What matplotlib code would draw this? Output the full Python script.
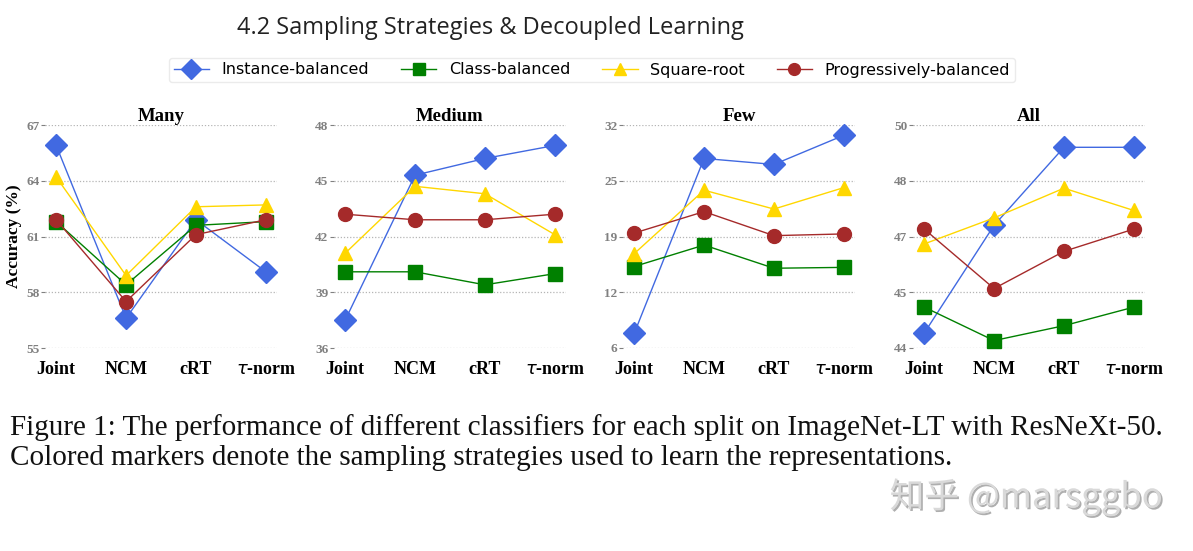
import matplotlib
matplotlib.use("Agg")
import matplotlib.pyplot as plt
import matplotlib.patheffects as pe

classifiers = ["Joint", "NCM", "cRT", r"$\tau$-norm"]
splits = ["Many", "Medium", "Few", "All"]

# accuracy (%) per split, order: Joint, NCM, cRT, tau-norm
instance_balanced = {
    "Many": [65.9, 56.6, 61.9, 59.1],
    "Medium": [37.5, 45.3, 46.2, 46.9],
    "Few": [7.7, 28.1, 27.4, 30.8],
    "All": [44.4, 47.3, 49.4, 49.4],
}
class_balanced = {
    "Many": [61.8, 58.4, 61.6, 61.8],
    "Medium": [40.1, 40.1, 39.4, 40.0],
    "Few": [15.5, 18.0, 15.3, 15.4],
    "All": [45.1, 44.2, 44.6, 45.1],
}
square_root = {
    "Many": [64.2, 58.9, 62.6, 62.7],
    "Medium": [41.1, 44.7, 44.3, 42.1],
    "Few": [17.0, 24.4, 22.2, 24.7],
    "All": [46.8, 47.5, 48.3, 47.7],
}
progressively_balanced = {
    "Many": [61.9, 57.5, 61.1, 61.9],
    "Medium": [43.2, 42.9, 42.9, 43.2],
    "Few": [19.4, 21.9, 19.1, 19.3],
    "All": [47.2, 45.6, 46.6, 47.2],
}

y_ticks = {
    "Many": [55, 58, 61, 64, 67],
    "Medium": [36, 39, 42, 45, 48],
    "Few": [6, 12.5, 19, 25.5, 32],
    "All": [44, 45.5, 47, 48.5, 50],
}
y_tick_labels = {
    "Many": ["55", "58", "61", "64", "67"],
    "Medium": ["36", "39", "42", "45", "48"],
    "Few": ["6", "12", "19", "25", "32"],
    "All": ["44", "45", "47", "48", "50"],
}

series = [
    ("Instance-balanced", instance_balanced, "#4169E1", "D", 11.5),
    ("Class-balanced", class_balanced, "#008000", "s", 10),
    ("Square-root", square_root, "#FFD700", "^", 10),
    ("Progressively-balanced", progressively_balanced, "#A52A2A", "o", 10),
]

serif = ["Liberation Serif", "DejaVu Serif"]

fig = plt.figure(figsize=(11.93, 5.51), dpi=100)

W, H = 1193, 551
lefts = [45, 334, 623, 913]
ax_w, ax_top, ax_bot = 232, 125, 348
xpos = [1, 2, 3, 4]

handles = []
for i, split in enumerate(splits):
    ax = fig.add_axes([lefts[i] / W, 1 - ax_bot / H, ax_w / W, (ax_bot - ax_top) / H])
    for name, data, color, marker, ms in series:
        h, = ax.plot(xpos, data[split], color=color, marker=marker, markersize=ms,
                     linewidth=1.0, clip_on=False, zorder=3, label=name)
        if i == 0:
            handles.append(h)
    ax.set_xlim(0.84, 4.16)
    ax.set_ylim(y_ticks[split][0], y_ticks[split][-1])
    ax.set_yticks(y_ticks[split])
    ax.set_yticklabels(y_tick_labels[split], family=serif, fontweight="bold",
                       fontsize=9.5, color="#808080")
    ax.set_xticks(xpos)
    ax.set_xticklabels(classifiers, family=serif, fontweight="bold", fontsize=13)
    ax.tick_params(axis="y", length=3, width=0.8, color="#808080", pad=1)
    ax.tick_params(axis="x", length=0, pad=9)
    ax.grid(axis="y", linestyle=(0, (1, 1.5)), color="#b5b5b5", linewidth=0.9)
    for s in ax.spines.values():
        s.set_visible(False)
    ax.set_title(split, family=serif, fontweight="bold", fontsize=13.5, pad=3)
    if i == 0:
        ax.set_ylabel("Accuracy (%)", family=serif, fontweight="bold", fontsize=12.5)
        ax.yaxis.set_label_coords(-0.1, 0.5)

fig.text(237 / W, 1 - 28 / H, "4.2 Sampling Strategies & Decoupled Learning",
         family="Open Sans", fontsize=17, color="#222222", va="center", ha="left")

fig.legend(handles=handles, loc="center", bbox_to_anchor=(592 / W, 1 - 70 / H),
           ncol=4, frameon=True, fontsize=11.5, handlelength=2.2, columnspacing=2.0,
           borderpad=0.3, edgecolor="#e6e6e6", fancybox=True, markerscale=0.85)

caption = ("Figure 1: The performance of different classifiers for each split on ImageNet-LT with ResNeXt-50.\n"
           "Colored markers denote the sampling strategies used to learn the representations.")
fig.text(10 / W, 1 - 443 / H, caption, family=serif, fontsize=21, color="#111111",
         va="center", ha="left", linespacing=1.2)

fig.text(1163 / W, 1 - 497 / H, "知乎 @marsggbo", family=["Noto Sans CJK SC", "DejaVu Sans"],
         fontsize=25, color="#d9d9d9", ha="right", va="center",
         path_effects=[pe.withSimplePatchShadow(offset=(1.2, -1.2), shadow_rgbFace="#9a9a9a", alpha=0.8)])

fig.savefig("out.png", dpi=100)
